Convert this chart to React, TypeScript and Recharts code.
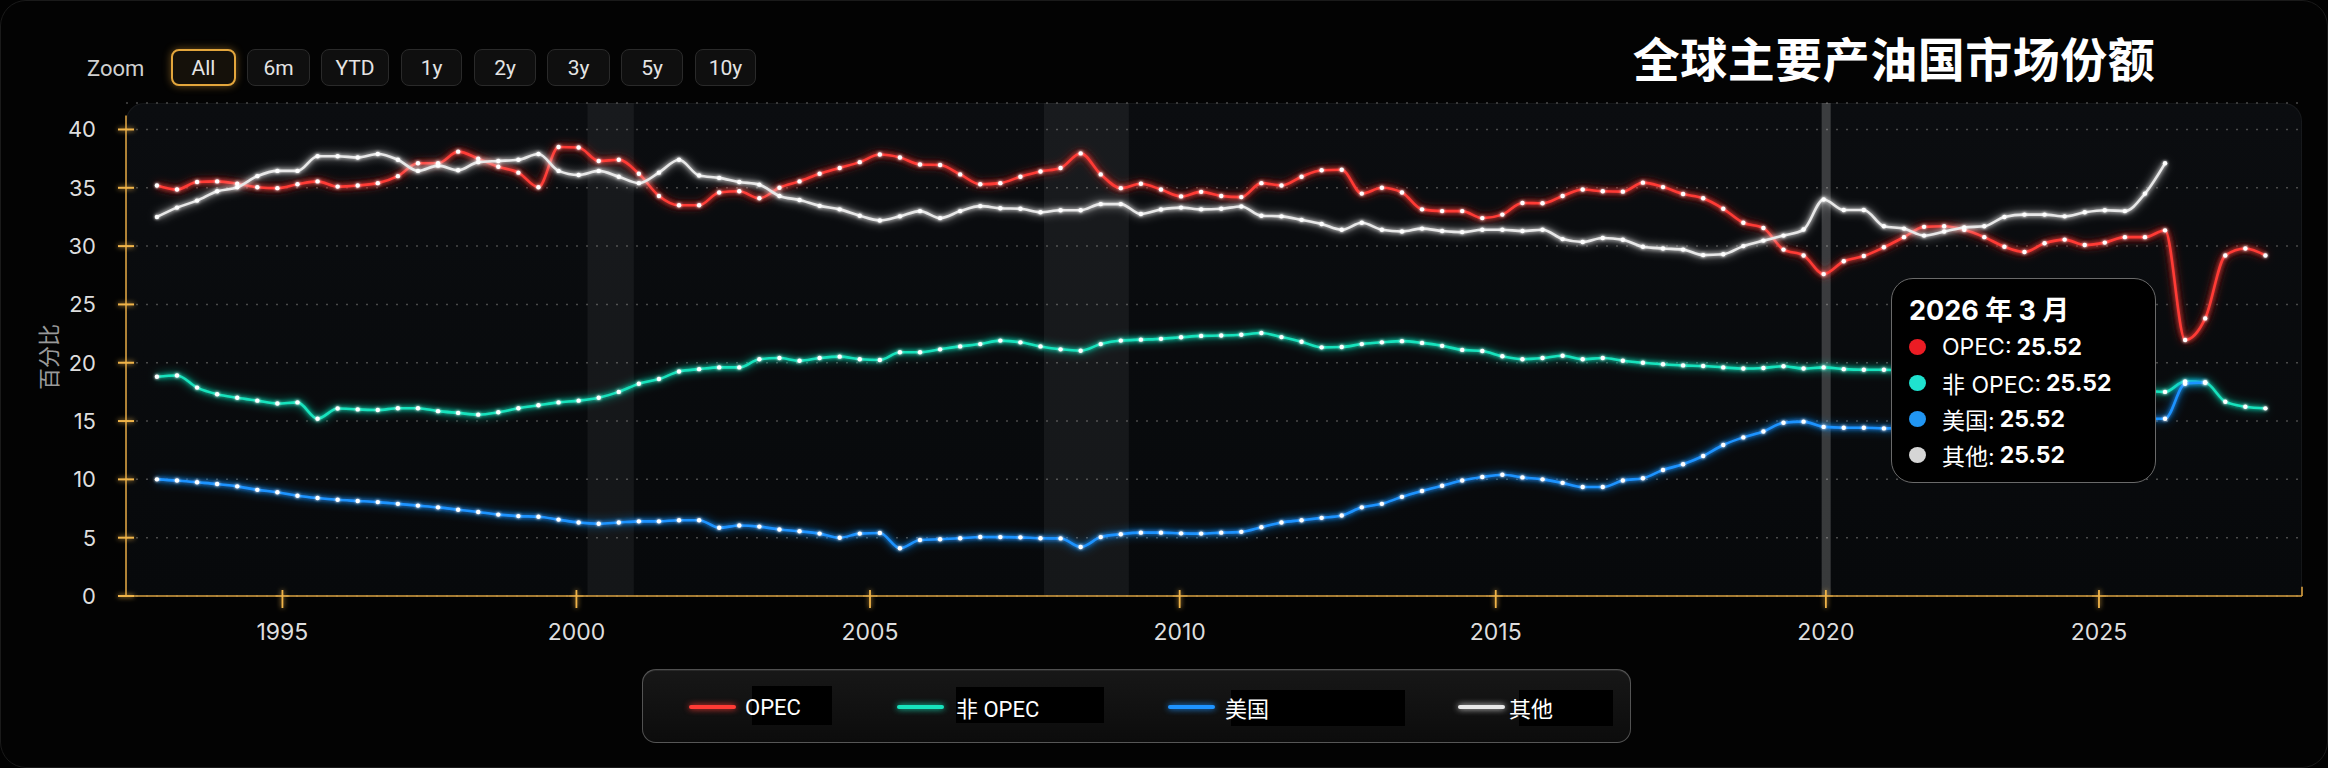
import React from 'react';
import { LineChart, Line, XAxis, YAxis, CartesianGrid, ReferenceArea, ReferenceLine } from 'recharts';

// ---- data (points are evenly spaced on an ordinal time axis, as in the source) ----
const opecShare = [
  35.2, 34.85, 35.5, 35.55, 35.35, 35.05, 34.97, 35.3, 35.55, 35.1,
  35.2, 35.4, 36.0, 37.1, 37.1, 38.1, 37.5, 36.8, 36.3, 35.05,
  38.5, 38.45, 37.3, 37.4, 36.2, 34.3, 33.5, 33.5, 34.6, 34.7,
  34.1, 35.0, 35.55, 36.2, 36.7, 37.2, 37.85, 37.6, 37.0, 36.95,
  36.15, 35.3, 35.4, 35.95, 36.4, 36.7, 37.95, 36.15, 34.97, 35.35,
  34.85, 34.26, 34.65, 34.3, 34.2, 35.4, 35.2, 35.95, 36.5, 36.55,
  34.5, 35.0, 34.6, 33.15, 33.0, 33.0, 32.4, 32.7, 33.7, 33.67,
  34.3, 34.85, 34.7, 34.67, 35.44, 35.06, 34.47, 34.1, 33.2, 32.0,
  31.55, 29.7, 29.2, 27.6, 28.7, 29.15, 29.9, 30.77, 31.65, 31.7,
  31.4, 30.77, 29.95, 29.5, 30.25, 30.56, 30.1, 30.3, 30.77, 30.77,
  31.35, 21.95, 23.8, 29.2, 29.8, 29.2,
];
const nonOpecShare = [
  18.8, 18.9, 17.87, 17.3, 17.0, 16.75, 16.5, 16.6, 15.2, 16.07,
  16.0, 15.95, 16.1, 16.1, 15.85, 15.7, 15.55, 15.75, 16.1, 16.35,
  16.6, 16.75, 17.0, 17.5, 18.2, 18.6, 19.25, 19.45, 19.6, 19.6,
  20.3, 20.4, 20.17, 20.4, 20.52, 20.3, 20.23, 20.9, 20.9, 21.15,
  21.4, 21.6, 21.9, 21.75, 21.4, 21.15, 21.03, 21.6, 21.9, 21.98,
  22.05, 22.18, 22.3, 22.33, 22.4, 22.55, 22.2, 21.8, 21.32, 21.35,
  21.6, 21.75, 21.85, 21.7, 21.45, 21.1, 21.0, 20.55, 20.3, 20.4,
  20.6, 20.3, 20.4, 20.17, 20.0, 19.87, 19.77, 19.72, 19.6, 19.5,
  19.55, 19.7, 19.5, 19.6, 19.45, 19.4, 19.4, 19.35, 19.3, 19.15,
  19.2, 19.0, 18.8, 18.75, 18.5, 18.3, 18.2, 17.9, 17.7, 17.6,
  17.5, 18.4, 18.3, 16.66, 16.23, 16.09,
];
const usShare = [
  10.0, 9.9, 9.75, 9.6, 9.4, 9.1, 8.9, 8.6, 8.4, 8.25,
  8.15, 8.05, 7.9, 7.75, 7.6, 7.4, 7.2, 6.98, 6.85, 6.8,
  6.55, 6.3, 6.2, 6.3, 6.4, 6.4, 6.5, 6.5, 5.85, 6.05,
  5.95, 5.7, 5.55, 5.35, 5.0, 5.35, 5.4, 4.1, 4.8, 4.87,
  4.95, 5.06, 5.05, 5.03, 4.95, 4.94, 4.2, 5.05, 5.3, 5.43,
  5.43, 5.37, 5.35, 5.43, 5.5, 5.9, 6.3, 6.5, 6.7, 6.9,
  7.6, 7.9, 8.5, 9.0, 9.45, 9.9, 10.2, 10.4, 10.17, 10.0,
  9.7, 9.34, 9.34, 9.9, 10.1, 10.8, 11.3, 12.0, 12.95, 13.6,
  14.1, 14.85, 14.95, 14.5, 14.43, 14.43, 14.37, 14.4, 14.35, 14.4,
  14.5, 14.45, 14.55, 14.6, 14.7, 14.8, 14.9, 15.0, 15.1, 15.2,
  15.2, 18.2, 18.3,
];
const otherShare = [
  32.5, 33.3, 33.9, 34.7, 35.05, 36.0, 36.45, 36.45, 37.7, 37.7,
  37.6, 37.9, 37.4, 36.45, 36.9, 36.5, 37.2, 37.3, 37.4, 37.9,
  36.45, 36.1, 36.45, 35.95, 35.4, 36.3, 37.4, 36.05, 35.85, 35.5,
  35.27, 34.3, 33.95, 33.45, 33.15, 32.6, 32.2, 32.55, 33.0, 32.4,
  33.0, 33.43, 33.25, 33.2, 32.9, 33.08, 33.08, 33.6, 33.6, 32.75,
  33.14, 33.3, 33.15, 33.2, 33.4, 32.6, 32.55, 32.25, 31.9, 31.4,
  32.0, 31.4, 31.25, 31.5, 31.3, 31.2, 31.4, 31.4, 31.3, 31.4,
  30.6, 30.35, 30.7, 30.55, 29.95, 29.8, 29.7, 29.23, 29.3, 30.0,
  30.47, 30.9, 31.42, 34.0, 33.1, 33.1, 31.7, 31.5, 30.9, 31.25,
  31.6, 31.7, 32.5, 32.7, 32.7, 32.55, 32.9, 33.08, 33.0, 34.5,
  37.1,
];

// year ticks fall between points on the ordinal axis
const yearLabels = ['1995', '2000', '2005', '2010', '2015', '2020', '2025'];
const yearTickIndex = [6.25, 20.89, 35.51, 50.93, 66.67, 83.11, 96.71];
const yTicks = [0, 5, 10, 15, 20, 25, 30, 35, 40];
const shadedStart = [21.44, 44.17, 82.9];
const shadedEnd = [23.75, 48.4, 83.35];
const shadedStrength = [0.055, 0.06, 0.2];

const zoomLabels = ['All', '6m', 'YTD', '1y', '2y', '3y', '5y', '10y'];
const seriesNames = ['OPEC', '非 OPEC', '美国', '其他'];
const seriesKeys = ['opec', 'nonOpec', 'us', 'other'];
const seriesColors = ['#ff3b35', '#17e3bd', '#1e93ff', '#e8e8e8'];
const tooltipTitle = '2026 年 3 月';
const tooltipValues = ['25.52', '25.52', '25.52', '25.52'];
const tooltipDotColors = ['#ec1c24', '#1fe2cf', '#2196f3', '#d6d6d6'];
const chartTitle = '全球主要产油国市场份额';
const yAxisTitle = '百分比';

// ---- layout ----
const W = 2328;
const H = 768;
const X_DOMAIN: [number, number] = [-1.54, 106.82];
const Y_DOMAIN: [number, number] = [0, 42.27];
const GOLD = '#f0b44a';

const css = `
body { margin: 0; background: #000; }
.recharts-line-curve { filter: url(#lineGlow); }
.recharts-line-dot { filter: url(#dotGlow); }
`;

function YTick(props: any) {
  const { x, y, payload } = props;
  return (
    <g>
      <line x1={x - 8} x2={x + 8} y1={y} y2={y} stroke={GOLD} strokeWidth={2} filter="url(#axisGlow)" />
      <text x={x - 30} y={y} textAnchor="end" dominantBaseline="central" fill="#dedede" fontSize={22} fontFamily="Inter, Roboto, sans-serif">
        {payload.value}
      </text>
    </g>
  );
}

function XTick(props: any) {
  const { x, y, payload } = props;
  const idx = yearTickIndex.indexOf(payload.value);
  return (
    <g>
      <line x1={x} x2={x} y1={y - 6} y2={y + 12} stroke={GOLD} strokeWidth={1.8} filter="url(#axisGlow)" />
      <line x1={x - 7} x2={x + 7} y1={y} y2={y} stroke={GOLD} strokeWidth={1} opacity={0.7} />
      <text x={x} y={y + 36} textAnchor="middle" dominantBaseline="central" fill="#dedede" fontSize={23} fontFamily="Inter, Roboto, sans-serif">
        {idx >= 0 ? yearLabels[idx] : ''}
      </text>
    </g>
  );
}

const zoomLefts = [171, 247, 321, 401, 474, 547, 621, 695];
const zoomWidths = [65, 63, 68, 61, 62, 63, 62, 61];
const legendLineLefts = [46, 254, 525, 815];
const legendTextLefts = [102, 313, 582, 866];
const legendBgBoxes = [
  [109, 16, 80, 39],
  [313, 17, 148, 36],
  [588, 20, 174, 36],
  [876, 20, 94, 36],
];

export default function App() {
  const data = opecShare.map((v, i) => ({
    i,
    opec: v,
    nonOpec: nonOpecShare[i] ?? null,
    us: usShare[i] ?? null,
    other: otherShare[i] ?? null,
  }));

  return (
    <div style={{ position: 'relative', width: W, height: H, background: '#020202', overflow: 'hidden', fontFamily: 'Inter, "Noto Sans CJK SC", sans-serif' }}>
      <style>{css}</style>
      <svg width={0} height={0} style={{ position: 'absolute' }}>
        <defs>
          <filter id="lineGlow" filterUnits="userSpaceOnUse" x={0} y={0} width={W} height={H}>
            <feGaussianBlur in="SourceGraphic" stdDeviation={5} result="b1" />
            <feGaussianBlur in="SourceGraphic" stdDeviation={2} result="b2" />
            <feMerge>
              <feMergeNode in="b1" />
              <feMergeNode in="b2" />
              <feMergeNode in="SourceGraphic" />
            </feMerge>
          </filter>
          <filter id="dotGlow" filterUnits="userSpaceOnUse" x={0} y={0} width={W} height={H}>
            <feGaussianBlur in="SourceGraphic" stdDeviation={1.5} result="b1" />
            <feMerge>
              <feMergeNode in="b1" />
              <feMergeNode in="SourceGraphic" />
            </feMerge>
          </filter>
          <filter id="axisGlow" filterUnits="userSpaceOnUse" x={0} y={0} width={W} height={H}>
            <feGaussianBlur in="SourceGraphic" stdDeviation={2.5} result="b1" />
            <feMerge>
              <feMergeNode in="b1" />
              <feMergeNode in="SourceGraphic" />
            </feMerge>
          </filter>
        </defs>
      </svg>

      {/* outer card */}
      <div style={{ position: 'absolute', left: 0, top: 0, width: W - 2, height: H - 2, borderRadius: 26, border: '1px solid #1a1a1a', background: '#030303' }} />

      {/* plot panel */}
      <div style={{ position: 'absolute', left: 126, top: 103, width: 2176, height: 493, borderRadius: '18px 18px 0 0', background: 'linear-gradient(180deg,#0b0d10,#07090b)', border: '1px solid rgba(255,255,255,0.05)', borderBottom: 'none', boxSizing: 'border-box' }} />

      {/* title */}
      <div style={{ position: 'absolute', left: 1894, top: 56, transform: 'translate(-50%,-50%)', color: '#fff', fontSize: 47, fontWeight: 700, letterSpacing: 0.5, whiteSpace: 'nowrap', fontFamily: '"Noto Sans CJK SC", sans-serif' }}>
        {chartTitle}
      </div>

      {/* zoom bar */}
      <div style={{ position: 'absolute', left: 87, top: 68, transform: 'translateY(-50%)', color: '#d0d0d0', fontSize: 22, fontFamily: 'Roboto, sans-serif' }}>Zoom</div>
      {zoomLabels.map((z, i) => (
        <div
          key={z}
          style={{
            position: 'absolute',
            left: zoomLefts[i],
            top: 49,
            width: zoomWidths[i],
            height: 37,
            boxSizing: 'border-box',
            borderRadius: 8,
            border: i === 0 ? '2px solid #e3a63c' : '1px solid #2a2a2a',
            background: i === 0 ? '#15110a' : '#0f0f0f',
            boxShadow: i === 0 ? '0 0 8px rgba(240,170,60,0.45)' : 'none',
            color: '#e4e4e4',
            fontSize: 21,
            fontFamily: 'Roboto, sans-serif',
            display: 'flex',
            alignItems: 'center',
            justifyContent: 'center',
          }}
        >
          {z}
        </div>
      ))}

      {/* y axis title */}
      <div style={{ position: 'absolute', left: 47, top: 357, transform: 'translate(-50%,-50%) rotate(-90deg)', color: '#9a9a9a', fontSize: 22, whiteSpace: 'nowrap', fontFamily: '"Noto Sans CJK SC", sans-serif' }}>
        {yAxisTitle}
      </div>

      {/* chart */}
      <div style={{ position: 'absolute', left: 0, top: 0 }}>
        <LineChart width={W} height={H} data={data} margin={{ top: 103, right: 26, bottom: 0, left: 0 }}>
          {shadedStart.map((s, i) => (
            <ReferenceArea key={'band' + i} x1={s} x2={shadedEnd[i]} fill="#ffffff" fillOpacity={shadedStrength[i]} stroke="none" ifOverflow="visible" />
          ))}
          <CartesianGrid vertical={false} stroke="#4a4a4a" strokeDasharray="2 8" strokeWidth={1.5} />
          <XAxis
            type="number"
            dataKey="i"
            domain={X_DOMAIN}
            allowDataOverflow
            ticks={yearTickIndex}
            interval={0}
            tick={<XTick />}
            tickLine={false}
            tickSize={0}
            tickMargin={0}
            height={172}
            axisLine={{ stroke: '#d9a040', strokeWidth: 1.6 }}
          />
          <YAxis
            type="number"
            domain={Y_DOMAIN}
            allowDataOverflow
            ticks={yTicks}
            interval={0}
            tick={<YTick />}
            tickLine={false}
            tickSize={0}
            tickMargin={0}
            width={126}
            axisLine={false}
          />
          <ReferenceLine
            segment={[{ x: X_DOMAIN[0], y: 0 }, { x: X_DOMAIN[0], y: 41.2 }]}
            stroke="#d9a040"
            strokeWidth={1.6}
            ifOverflow="visible"
          />
          <ReferenceLine
            segment={[{ x: X_DOMAIN[1], y: 0 }, { x: X_DOMAIN[1], y: 0.8 }]}
            stroke="#d9a040"
            strokeWidth={1.6}
            ifOverflow="visible"
          />
          {seriesKeys.map((k, i) => (
            <Line
              key={k}
              type="monotone"
              dataKey={k}
              stroke={seriesColors[i]}
              strokeWidth={2.6}
              dot={{ r: 2.2, fill: '#ffffff', stroke: 'none' }}
              activeDot={false}
              isAnimationActive={false}
            />
          ))}
        </LineChart>
      </div>

      {/* legend */}
      <div style={{ position: 'absolute', left: 642, top: 669, width: 989, height: 74, boxSizing: 'border-box', borderRadius: 14, border: '1.5px solid rgba(255,255,255,0.28)', background: 'linear-gradient(180deg,#171717,#0c0c0c)', boxShadow: 'inset 0 1px 0 rgba(255,255,255,0.08)' }}>
        {seriesNames.map((n, i) => (
          <React.Fragment key={n}>
            <div style={{ position: 'absolute', left: legendBgBoxes[i][0], top: legendBgBoxes[i][1], width: legendBgBoxes[i][2], height: legendBgBoxes[i][3], background: '#000' }} />
            <div style={{ position: 'absolute', left: legendLineLefts[i], top: 35, width: 47, height: 4, borderRadius: 2, background: seriesColors[i], boxShadow: `0 0 6px ${seriesColors[i]}` }} />
            <div style={{ position: 'absolute', left: legendTextLefts[i], top: 37, transform: 'translateY(-50%)', color: '#ffffff', fontSize: 22, whiteSpace: 'nowrap', fontFamily: 'Roboto, "Noto Sans CJK SC", sans-serif' }}>{n}</div>
          </React.Fragment>
        ))}
      </div>

      {/* static tooltip */}
      <div style={{ position: 'absolute', left: 1891, top: 278, width: 265, height: 205, boxSizing: 'border-box', borderRadius: 22, border: '1.5px solid #6a6a6a', background: '#000', color: '#fff' }}>
        <div style={{ position: 'absolute', left: 17, top: 29, transform: 'translateY(-50%)', fontSize: 27, fontWeight: 700, whiteSpace: 'nowrap', fontFamily: 'Inter, "Noto Sans CJK SC", sans-serif' }}>{tooltipTitle}</div>
        {seriesNames.map((n, i) => (
          <div key={n} style={{ position: 'absolute', left: 17, top: 68 + i * 36, transform: 'translateY(-50%)', display: 'flex', alignItems: 'center', whiteSpace: 'nowrap', fontSize: 23, fontFamily: 'Inter, "Noto Sans CJK SC", sans-serif' }}>
            <span style={{ display: 'inline-block', width: 17, height: 16, borderRadius: '50%', background: tooltipDotColors[i], marginRight: 16 }} />
            <span>{n}: </span>
            <span style={{ fontWeight: 700, marginLeft: 5 }}>{tooltipValues[i]}</span>
          </div>
        ))}
      </div>
    </div>
  );
}
